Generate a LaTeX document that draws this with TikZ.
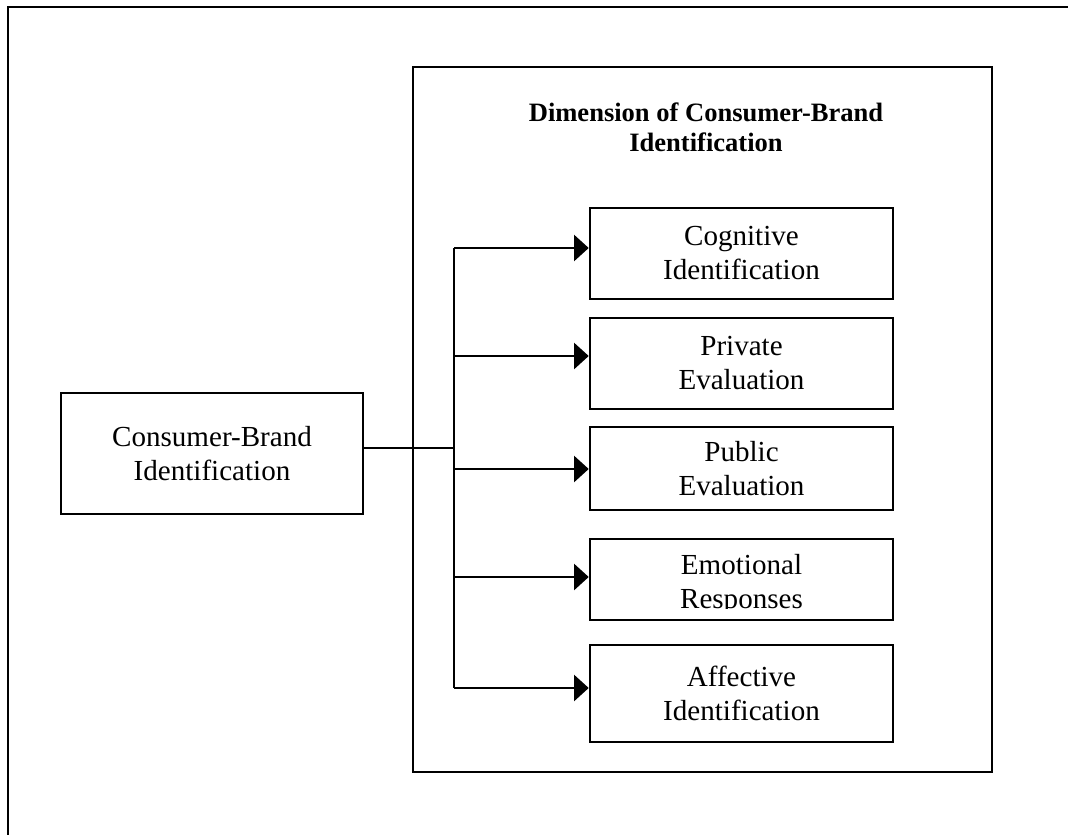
\documentclass[tikz,border=0pt]{standalone}
\usepackage{fontspec}
\setmainfont{Liberation Serif}
\usetikzlibrary{arrows.meta}
\begin{document}
\begin{tikzpicture}[x=0.75pt,y=-0.75pt,
  line width=1.9pt,
  box/.style={draw,line width=1.9pt,rectangle,inner sep=0pt,align=center,
     font=\fontsize{21.8}{25.5}\selectfont},
  txt/.style={inner sep=0pt,align=center,font=\fontsize{21.8}{25.5}\selectfont},
  conn/.style={line width=1.9pt},
  arr/.style={line width=1.9pt,-{Triangle[length=11pt,width=19.5pt]}},
  ttl/.style={inner sep=0pt,align=center,font=\fontsize{19.9}{22.5}\selectfont\bfseries}]
\useasboundingbox (0,0) rectangle (1068,835);
% outer frame (cut off at right and bottom)
\draw[line width=2.1pt] (8,840) -- (8,7) -- (1075,7);
% inner frame
\node[draw,line width=2.1pt,minimum width=434.25pt,minimum height=528.75pt,inner sep=0pt] (frame) at (702.5,419.5) {};
\node[ttl] (title) at (706,127) {Dimension of Consumer-Brand\\Identification};
% left box
\node[box,minimum width=226.5pt,minimum height=90.75pt] (L) at (212,453.5) {Consumer-Brand\\Identification};
% right boxes
\node[box,minimum width=227.25pt,minimum height=68.25pt] (b1) at (741.5,253.5) {Cognitive\\Identification};
\node[box,minimum width=227.25pt,minimum height=68.25pt] (b2) at (741.5,363.5) {Private\\Evaluation};
\node[box,minimum width=227.25pt,minimum height=62.25pt] (b3) at (741.5,468.5) {Public\\Evaluation};
\node[box,minimum width=227.25pt,minimum height=60.75pt] (b4) at (741.5,579.5) {};
\begin{scope}
  \clip (595,543) rectangle (888,608);
  \node[txt] (t4) at (741.5,585) {Emotional\\Responses};
\end{scope}
\node[box,minimum width=227.25pt,minimum height=72.75pt] (b5) at (741.5,693.5) {Affective\\Identification};
% connectors
\coordinate (j) at (454,448);
\coordinate (top) at (454,248);
\coordinate (bot) at (454,688);
\draw[conn] (L.east |- j) -- (j);
\draw[conn] (top) -- (bot);
\draw[arr] (top) -- (b1.west |- top);
\draw[arr] (454,356) -- (b2.west |- 0,356);
\draw[arr] (454,469) -- (b3.west |- 0,469);
\draw[arr] (454,577) -- (b4.west |- 0,577);
\draw[arr] (bot) -- (b5.west |- bot);
\end{tikzpicture}
\end{document}
